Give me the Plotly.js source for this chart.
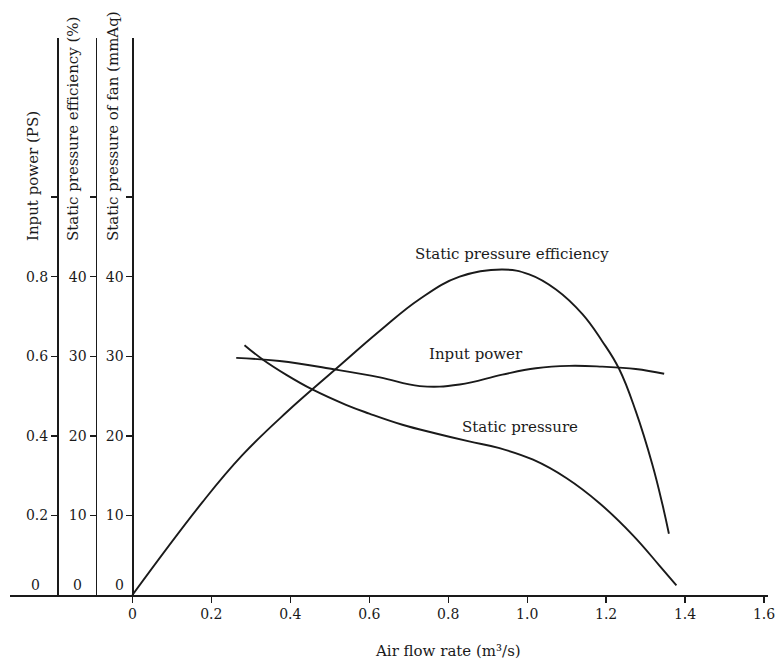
<!DOCTYPE html>
<html>
<head>
<meta charset="utf-8">
<script src="https://cdn.plot.ly/plotly-3.0.1.min.js"></script>
<style>html,body{margin:0;padding:0;background:#fff;}#chart{width:778px;height:660px;}</style>
</head>
<body>
<div id="chart"></div>
<script>
// Air flow rate (m3/s) and series values
const effFlow = [0, 0.178, 0.279, 0.389, 0.513, 0.627, 0.728, 0.829, 0.937, 1.005, 1.073, 1.14, 1.19, 1.233, 1.275, 1.317, 1.343, 1.359];
const effValues = [0, 11.7, 17.6, 22.9, 28.3, 33.2, 37.2, 40.0, 40.9, 40.3, 38.4, 35.3, 31.9, 28.4, 23.1, 16.4, 11.3, 7.7];

const powerFlow = [0.263, 0.373, 0.513, 0.627, 0.728, 0.829, 0.937, 1.022, 1.106, 1.19, 1.275, 1.347];
const powerValues = [0.596, 0.588, 0.567, 0.547, 0.525, 0.529, 0.554, 0.57, 0.576, 0.574, 0.568, 0.556];

const pressFlow = [0.284, 0.33, 0.389, 0.457, 0.541, 0.6, 0.684, 0.769, 0.853, 0.93, 1.015, 1.099, 1.184, 1.268, 1.335, 1.378];
const pressValues = [31.4, 29.6, 27.7, 25.8, 23.9, 22.8, 21.4, 20.3, 19.3, 18.45, 17.0, 14.7, 11.5, 7.5, 3.7, 1.2];

const xTicks = [0, 0.2, 0.4, 0.6, 0.8, 1.0, 1.2, 1.4, 1.6];
const xTickText = ['0', '0.2', '0.4', '0.6', '0.8', '1.0', '1.2', '1.4', '1.6'];
const pctTicks = [10, 20, 30, 40, 50];
const pctTickText = ['10', '20', '30', '40', ''];
const psTicks = [0.2, 0.4, 0.6, 0.8, 1.0];
const psTickText = ['0.2', '0.4', '0.6', '0.8', ''];

const FONT = 'DejaVu Serif, Liberation Serif, serif';
const INK = '#1a1a1a';

const lineStyle = {color: INK, width: 1.9, shape: 'spline', smoothing: 1.2};

const traces = [
  {x: pressFlow, y: pressValues, yaxis: 'y', mode: 'lines', line: lineStyle, name: 'Static pressure', hoverinfo: 'skip'},
  {x: effFlow, y: effValues, yaxis: 'y2', mode: 'lines', line: lineStyle, name: 'Static pressure efficiency', hoverinfo: 'skip'},
  {x: powerFlow, y: powerValues, yaxis: 'y3', mode: 'lines', line: lineStyle, name: 'Input power', hoverinfo: 'skip'}
];

const yCommon = {
  showline: true, linecolor: INK, linewidth: 1.6,
  ticks: 'outside', ticklen: 6, tickwidth: 1.3, tickcolor: INK,
  showgrid: false, zeroline: false,
  tickfont: {family: FONT, size: 14, color: INK},
  anchor: 'free', side: 'left', fixedrange: true
};

const f = s => ({family: FONT, size: s, color: INK});

const layout = {
  width: 778, height: 660,
  margin: {l: 10, r: 10, t: 38, b: 65},
  paper_bgcolor: '#fff', plot_bgcolor: '#fff',
  showlegend: false,
  font: f(14),
  xaxis: {
    range: [-0.31, 1.61], showline: true, linecolor: INK, linewidth: 1.6,
    tickvals: xTicks, ticktext: xTickText, ticks: 'outside', ticklen: 6, tickwidth: 1.3, tickcolor: INK,
    showgrid: false, zeroline: false, tickfont: f(14), fixedrange: true
  },
  yaxis: Object.assign({}, yCommon, {range: [0, 70], position: 0.1615, tickvals: pctTicks, ticktext: pctTickText}),
  yaxis2: Object.assign({}, yCommon, {range: [0, 70], position: 0.1128, overlaying: 'y', tickvals: pctTicks, ticktext: pctTickText}),
  yaxis3: Object.assign({}, yCommon, {range: [0, 1.4], position: 0.062, overlaying: 'y', tickvals: psTicks, ticktext: psTickText}),
  annotations: [
    {text: 'Static pressure efficiency', x: 0.961, y: 42.9, xref: 'x', yref: 'y', xanchor: 'center', yanchor: 'middle', showarrow: false, font: f(15)},
    {text: 'Input power', x: 0.87, y: 30.3, xref: 'x', yref: 'y', xanchor: 'center', yanchor: 'middle', showarrow: false, font: f(15)},
    {text: 'Static pressure', x: 0.981, y: 21.1, xref: 'x', yref: 'y', xanchor: 'center', yanchor: 'middle', showarrow: false, font: f(15)},
    {text: 'Air flow rate (m³/s)', x: 0.799, y: -0.1005, xref: 'x', yref: 'paper', xanchor: 'center', yanchor: 'middle', showarrow: false, font: f(15)},
    {text: 'Input power (PS)', x: 0, xref: 'paper', y: 0.632, yref: 'paper', xanchor: 'center', yanchor: 'bottom', textangle: -90, showarrow: false, font: f(15)},
    {text: 'Static pressure efficiency (%)', x: 0, xref: 'paper', y: 0.632, yref: 'paper', xanchor: 'center', yanchor: 'bottom', textangle: -90, showarrow: false, font: f(15)},
    {text: 'Static pressure of fan (mmAq)', x: 0, xref: 'paper', y: 0.632, yref: 'paper', xanchor: 'center', yanchor: 'bottom', textangle: -90, showarrow: false, font: f(15)},
    {text: '0', x: 0, xref: 'paper', y: 0.018, yref: 'paper', xanchor: 'center', yanchor: 'middle', showarrow: false, font: f(14)},
    {text: '0', x: 0, xref: 'paper', y: 0.018, yref: 'paper', xanchor: 'center', yanchor: 'middle', showarrow: false, font: f(14)},
    {text: '0', x: 0, xref: 'paper', y: 0.018, yref: 'paper', xanchor: 'center', yanchor: 'middle', showarrow: false, font: f(14)}
  ]
};

// paper x positions for the rotated titles and the zero labels (pixel -> paper)
const px = p => (p - 10) / 758;
layout.annotations[4].x = px(33);
layout.annotations[5].x = px(73);
layout.annotations[6].x = px(113);
layout.annotations[7].x = px(35);
layout.annotations[8].x = px(77);
layout.annotations[9].x = px(119);

Plotly.newPlot('chart', traces, layout, {staticPlot: true, displayModeBar: false});
</script>
</body>
</html>
